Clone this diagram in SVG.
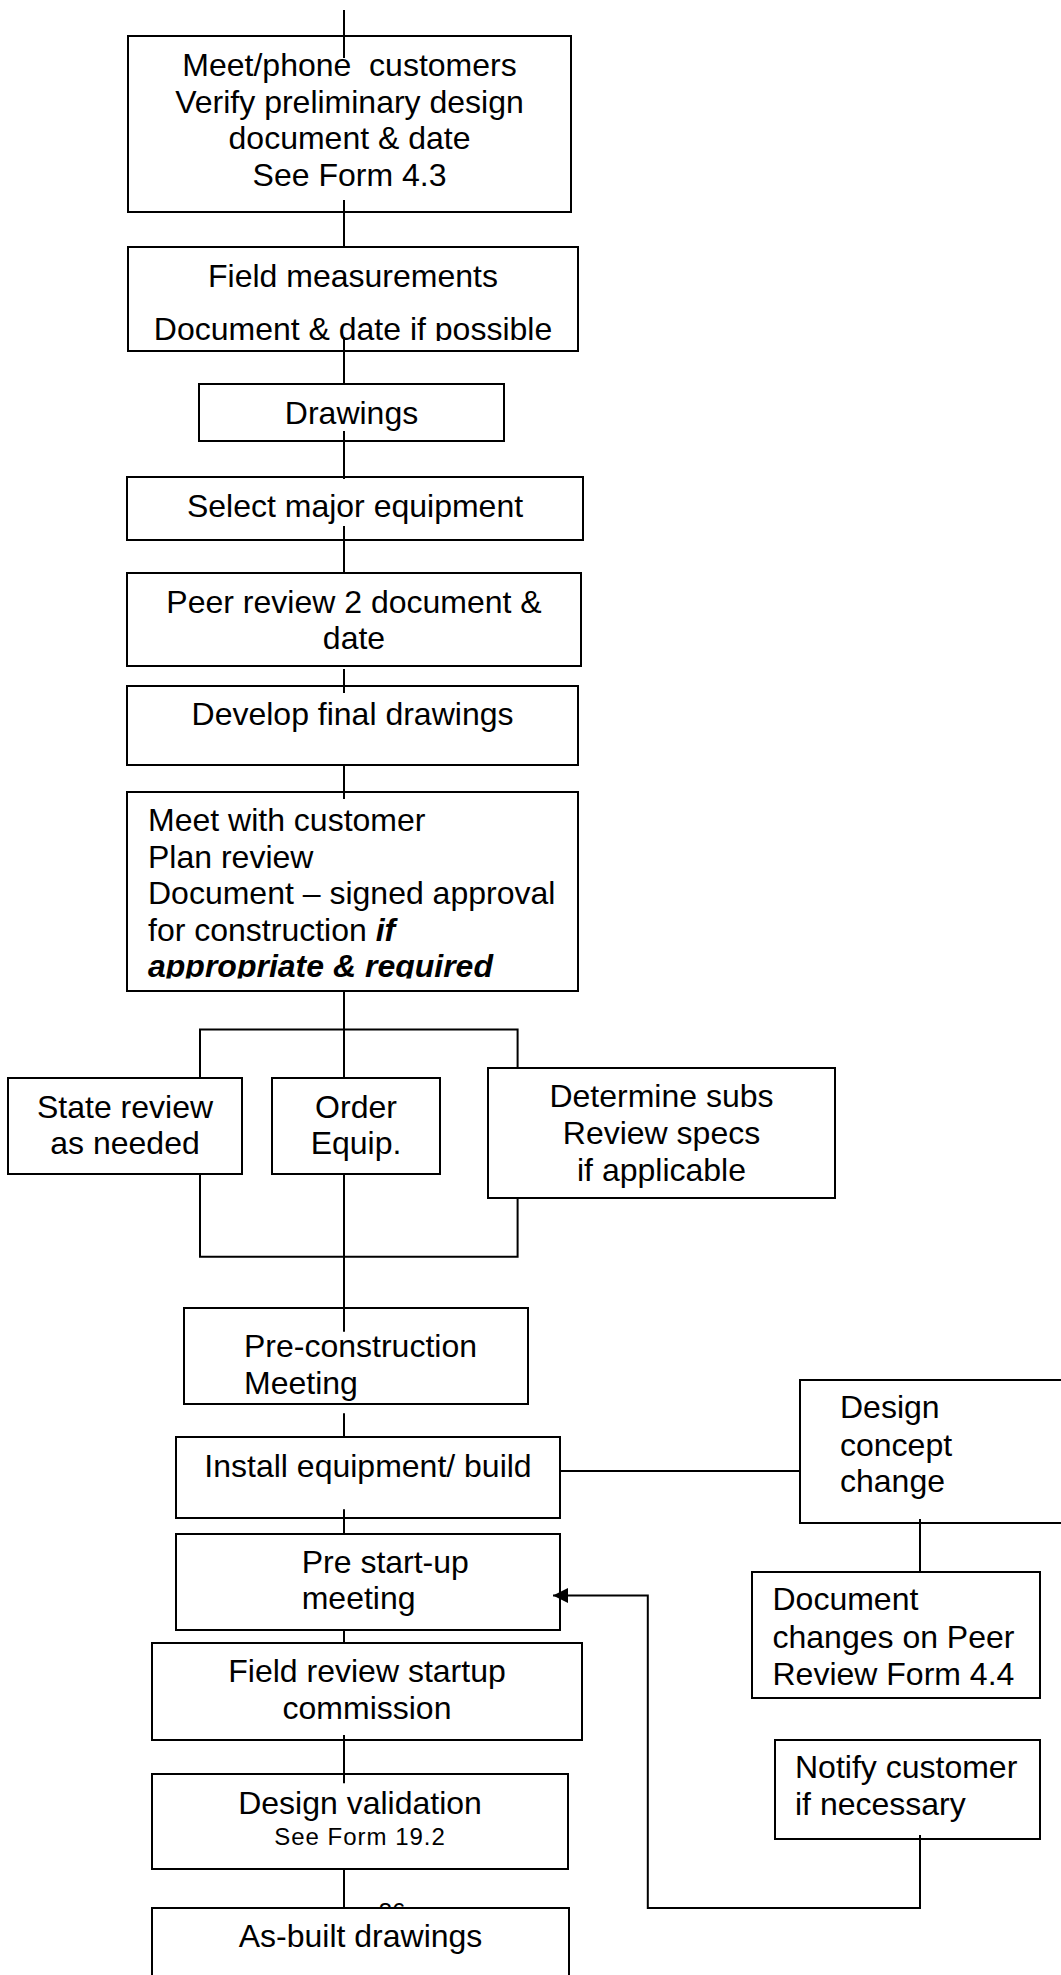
<svg xmlns="http://www.w3.org/2000/svg" width="1061" height="1975" viewBox="0 0 1061 1975">
<style>
.box{fill:#fff;stroke:#000;stroke-width:2}
.t{font-family:"Liberation Sans",Arial,sans-serif;font-size:32px;fill:#000}
.c{text-anchor:middle}
.bi{font-weight:bold;font-style:italic}
.conn{stroke:#000;stroke-width:2;fill:none}
.pg{font-family:"Liberation Sans",Arial,sans-serif;font-size:24px;fill:#000;text-anchor:middle}
</style>
<defs>
<marker id="arr" markerWidth="15" markerHeight="15" refX="15" refY="7.5" orient="auto" markerUnits="userSpaceOnUse">
<path d="M0,0 L15,7.5 L0,15 z" fill="#000"/>
</marker>
<clipPath id="clip2"><rect x="120" y="240" width="470" height="101"/></clipPath>
<clipPath id="clip7"><rect x="120" y="785" width="470" height="193.5"/></clipPath>
</defs>
<rect x="0" y="0" width="1061" height="1975" fill="#fff"/>
<text class="pg" x="392" y="1920">36</text>

<g id="n1">
<rect class="box" x="128" y="36" width="443" height="176"/>
<text class="t c" x="349.5" y="76" xml:space="preserve" style="white-space:pre">Meet/phone  customers</text>
<text class="t c" x="349.5" y="112.5">Verify preliminary design</text>
<text class="t c" x="349.5" y="149">document &amp; date</text>
<text class="t c" x="349.5" y="185.5">See Form 4.3</text>
</g>
<g id="n2">
<rect class="box" x="128" y="247" width="450" height="104"/>
<text class="t c" x="353" y="287">Field measurements</text>
<text class="t c" x="353" y="340" clip-path="url(#clip2)">Document &amp; date if possible</text>
</g>
<g id="n3">
<rect class="box" x="199" y="384" width="305" height="57"/>
<text class="t c" x="351.5" y="424">Drawings</text>
</g>
<g id="n4">
<rect class="box" x="127" y="477" width="456" height="63"/>
<text class="t c" x="355" y="516.7">Select major equipment</text>
</g>
<g id="n5">
<rect class="box" x="127" y="573" width="454" height="93"/>
<text class="t c" x="354" y="612.7">Peer review 2 document &amp;</text>
<text class="t c" x="354" y="649.3">date</text>
</g>
<g id="n6">
<rect class="box" x="127" y="686" width="451" height="79"/>
<text class="t c" x="352.5" y="724.5">Develop final drawings</text>
</g>
<g id="n7">
<rect class="box" x="127" y="792" width="451" height="199"/>
<text class="t" x="148" y="831">Meet with customer</text>
<text class="t" x="148" y="867.5">Plan review</text>
<text class="t" x="148" y="904">Document – signed approval</text>
<text class="t" x="148" y="940.5">for construction <tspan class="bi">if</tspan></text>
<text class="t bi" x="148" y="977" clip-path="url(#clip7)">appropriate &amp; required</text>
</g>
<g id="n8">
<rect class="box" x="8" y="1078" width="234" height="96"/>
<text class="t c" x="125" y="1117.5">State review</text>
<text class="t c" x="125" y="1154">as needed</text>
</g>
<g id="n9">
<rect class="box" x="272" y="1078" width="168" height="96"/>
<text class="t c" x="356" y="1117.5">Order</text>
<text class="t c" x="356" y="1154">Equip.</text>
</g>
<g id="n10">
<rect class="box" x="488" y="1068" width="347" height="130"/>
<text class="t c" x="661.5" y="1107.3">Determine subs</text>
<text class="t c" x="661.5" y="1144">Review specs</text>
<text class="t c" x="661.5" y="1180.7">if applicable</text>
</g>
<g id="n11">
<rect class="box" x="184" y="1308" width="344" height="96"/>
<text class="t" x="244" y="1357">Pre-construction</text>
<text class="t" x="244" y="1393.8">Meeting</text>
</g>
<g id="n12">
<rect class="box" x="176" y="1437" width="384" height="81"/>
<text class="t c" x="368" y="1476.7">Install equipment/ build</text>
</g>
<g id="n13">
<rect class="box" x="176" y="1534" width="384" height="96"/>
<text class="t" x="301.7" y="1572.5">Pre start-up</text>
<text class="t" x="301.7" y="1609">meeting</text>
</g>
<g id="n14">
<rect class="box" x="152" y="1643" width="430" height="97"/>
<text class="t c" x="367" y="1682">Field review startup</text>
<text class="t c" x="367" y="1719">commission</text>
</g>
<g id="n15">
<rect class="box" x="152" y="1774" width="416" height="95"/>
<text class="t c" x="360" y="1814">Design validation</text>
<text class="t c" x="360" y="1845" style="font-size:24px;letter-spacing:1px">See Form 19.2</text>
</g>
<g id="n16">
<rect class="box" x="152" y="1908" width="417" height="80"/>
<text class="t c" x="360.5" y="1946.7">As-built drawings</text>
</g>
<g id="n17">
<rect class="box" x="800" y="1380" width="280" height="143"/>
<text class="t" x="840" y="1418.3">Design</text>
<text class="t" x="840" y="1455.5">concept</text>
<text class="t" x="840" y="1492">change</text>
</g>
<g id="n18">
<rect class="box" x="752" y="1572" width="288" height="126"/>
<text class="t" x="772.5" y="1610">Document</text>
<text class="t" x="772.5" y="1647.5">changes on Peer</text>
<text class="t" x="772.5" y="1685">Review Form 4.4</text>
</g>
<g id="n19">
<rect class="box" x="775" y="1740" width="265" height="99"/>
<text class="t" x="795" y="1778.3">Notify customer</text>
<text class="t" x="795" y="1815">if necessary</text>
</g>

<g id="connectors">
<path class="conn" d="M344,10 V58"/>
<path class="conn" d="M344,200 V248"/>
<path class="conn" d="M344,337 V385"/>
<path class="conn" d="M344,431 V479"/>
<path class="conn" d="M344,526 V573"/>
<path class="conn" d="M344,669 V693"/>
<path class="conn" d="M344,765 V799"/>
<path class="conn" d="M344,991 V1030"/>
<path class="conn" d="M200,1077.5 V1029.5 H517.6 V1067.7"/>
<path class="conn" d="M344,1029.5 V1077.5"/>
<path class="conn" d="M200,1174 V1256.7 H517.6 V1197.7"/>
<path class="conn" d="M344,1174 V1331.7"/>
<path class="conn" d="M344,1413.3 V1437.3"/>
<path class="conn" d="M344,1509.3 V1534"/>
<path class="conn" d="M344,1630 V1643.3"/>
<path class="conn" d="M344,1735 V1783.3"/>
<path class="conn" d="M344,1869.3 V1908"/>
<path class="conn" d="M560,1471 H800"/>
<path class="conn" d="M920,1519 V1571.7"/>
<path class="conn" d="M920,1835 V1908 H647.8 V1595.5 H553" marker-end="url(#arr)"/>
</g>
</svg>
